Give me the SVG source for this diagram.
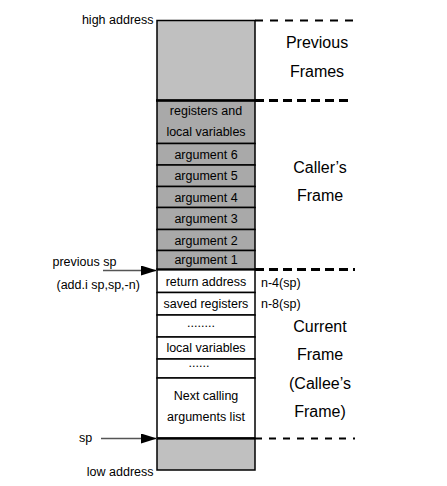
<svg xmlns="http://www.w3.org/2000/svg" width="447" height="486" viewBox="0 0 447 486">
<defs>
<style>
text{font-family:"Liberation Sans",Arial,sans-serif;fill:#000}
.s{font-size:12.5px}
.c{text-anchor:middle}
.b{font-size:16px;text-anchor:middle}
.cell{stroke:#000;stroke-width:1.5}
.lg{fill:#c0c0c0}
.dg{fill:#a9a9a9}
.w{fill:#fff}
.dash{stroke:#000;fill:none}
.arr{stroke:#555;stroke-width:1.5;fill:none}
</style>
<marker id="ah" viewBox="0 0 16 10" refX="16" refY="5" markerWidth="16" markerHeight="10" markerUnits="userSpaceOnUse" orient="auto">
<path d="M0,0 L16,5 L0,10 z" fill="#000"/>
</marker>
</defs>
<rect width="447" height="486" fill="#fff"/>

<g id="previous-frames">
<rect class="cell lg" x="157" y="20.5" width="98" height="80"/>
</g>
<g id="caller-frame">
<rect id="regs" class="cell dg" x="157" y="100.5" width="98" height="43"/>
<text class="s c" x="206" y="115">registers and</text>
<text class="s c" x="206" y="136">local variables</text>
<rect id="arg6" class="cell dg" x="157" y="143.5" width="98" height="21.5"/>
<text class="s c" x="206" y="158.5">argument 6</text>
<rect id="arg5" class="cell dg" x="157" y="165" width="98" height="21.5"/>
<text class="s c" x="206" y="180">argument 5</text>
<rect id="arg4" class="cell dg" x="157" y="186.5" width="98" height="21"/>
<text class="s c" x="206" y="201.5">argument 4</text>
<rect id="arg3" class="cell dg" x="157" y="207.5" width="98" height="22"/>
<text class="s c" x="206" y="223">argument 3</text>
<rect id="arg2" class="cell dg" x="157" y="229.5" width="98" height="21"/>
<text class="s c" x="206" y="244.5">argument 2</text>
<rect id="arg1" class="cell dg" x="157" y="250.5" width="98" height="19"/>
<text class="s c" x="206" y="264">argument 1</text>
</g>
<g id="current-frame">
<rect id="ret" class="cell w" x="157" y="269.5" width="98" height="23"/>
<text class="s c" x="206" y="285.5">return address</text>
<rect id="saved" class="cell w" x="157" y="292.5" width="98" height="22.5"/>
<text class="s c" x="206" y="308">saved registers</text>
<rect id="dots1" class="cell w" x="157" y="315" width="98" height="22"/>
<text class="s c" x="201" y="326.5">........</text>
<rect id="locals" class="cell w" x="157" y="337" width="98" height="22"/>
<text class="s c" x="206" y="352">local variables</text>
<rect id="dots2" class="cell w" x="157" y="359" width="98" height="19"/>
<text class="s c" x="199" y="367">......</text>
<rect id="next" class="cell w" x="157" y="378" width="98" height="60"/>
<text class="s c" x="206" y="400">Next calling</text>
<text class="s c" x="206" y="421">arguments list</text>
</g>
<g id="low-area">
<rect class="cell lg" x="157" y="438.5" width="98" height="31.5"/>
</g>

<g id="connectors">
<line class="dash" x1="255" y1="20.5" x2="355" y2="20.5" stroke-width="2" stroke-dasharray="8 7"/>
<line x1="156" y1="100.5" x2="255" y2="100.5" stroke="#000" stroke-width="2.5"/>
<line class="dash" x1="255" y1="100.5" x2="350" y2="100.5" stroke-width="3" stroke-dasharray="9 5"/>
<line x1="156" y1="269.5" x2="255" y2="269.5" stroke="#000" stroke-width="2"/>
<line class="dash" x1="255" y1="269.5" x2="355" y2="269.5" stroke-width="3" stroke-dasharray="9 5"/>
<line x1="156" y1="438.5" x2="255" y2="438.5" stroke="#000" stroke-width="2"/>
<line class="dash" x1="255" y1="438.5" x2="355" y2="438.5" stroke-width="1.8" stroke-dasharray="7 7"/>
<line class="arr" x1="103" y1="270.5" x2="157" y2="270.5" marker-end="url(#ah)"/>
<line class="arr" x1="101" y1="438.5" x2="157" y2="438.5" marker-end="url(#ah)"/>
</g>

<g id="labels">
<text class="s" x="153.5" y="24" text-anchor="end">high address</text>
<text class="s" x="153.5" y="476" text-anchor="end">low address</text>
<text class="s" x="52.5" y="266">previous sp</text>
<text class="s" x="56.5" y="289">(add.i sp,sp,-n)</text>
<text class="s" x="79" y="442">sp</text>
<text class="s" x="261" y="287">n-4(sp)</text>
<text class="s" x="261" y="307.5">n-8(sp)</text>
<text class="b" x="317" y="48">Previous</text>
<text class="b" x="317" y="77">Frames</text>
<text class="b" x="320" y="173">Caller’s</text>
<text class="b" x="320" y="201">Frame</text>
<text class="b" x="320" y="331.5">Current</text>
<text class="b" x="320" y="360">Frame</text>
<text class="b" x="320" y="388.5">(Callee’s</text>
<text class="b" x="320" y="417">Frame)</text>
</g>
</svg>
